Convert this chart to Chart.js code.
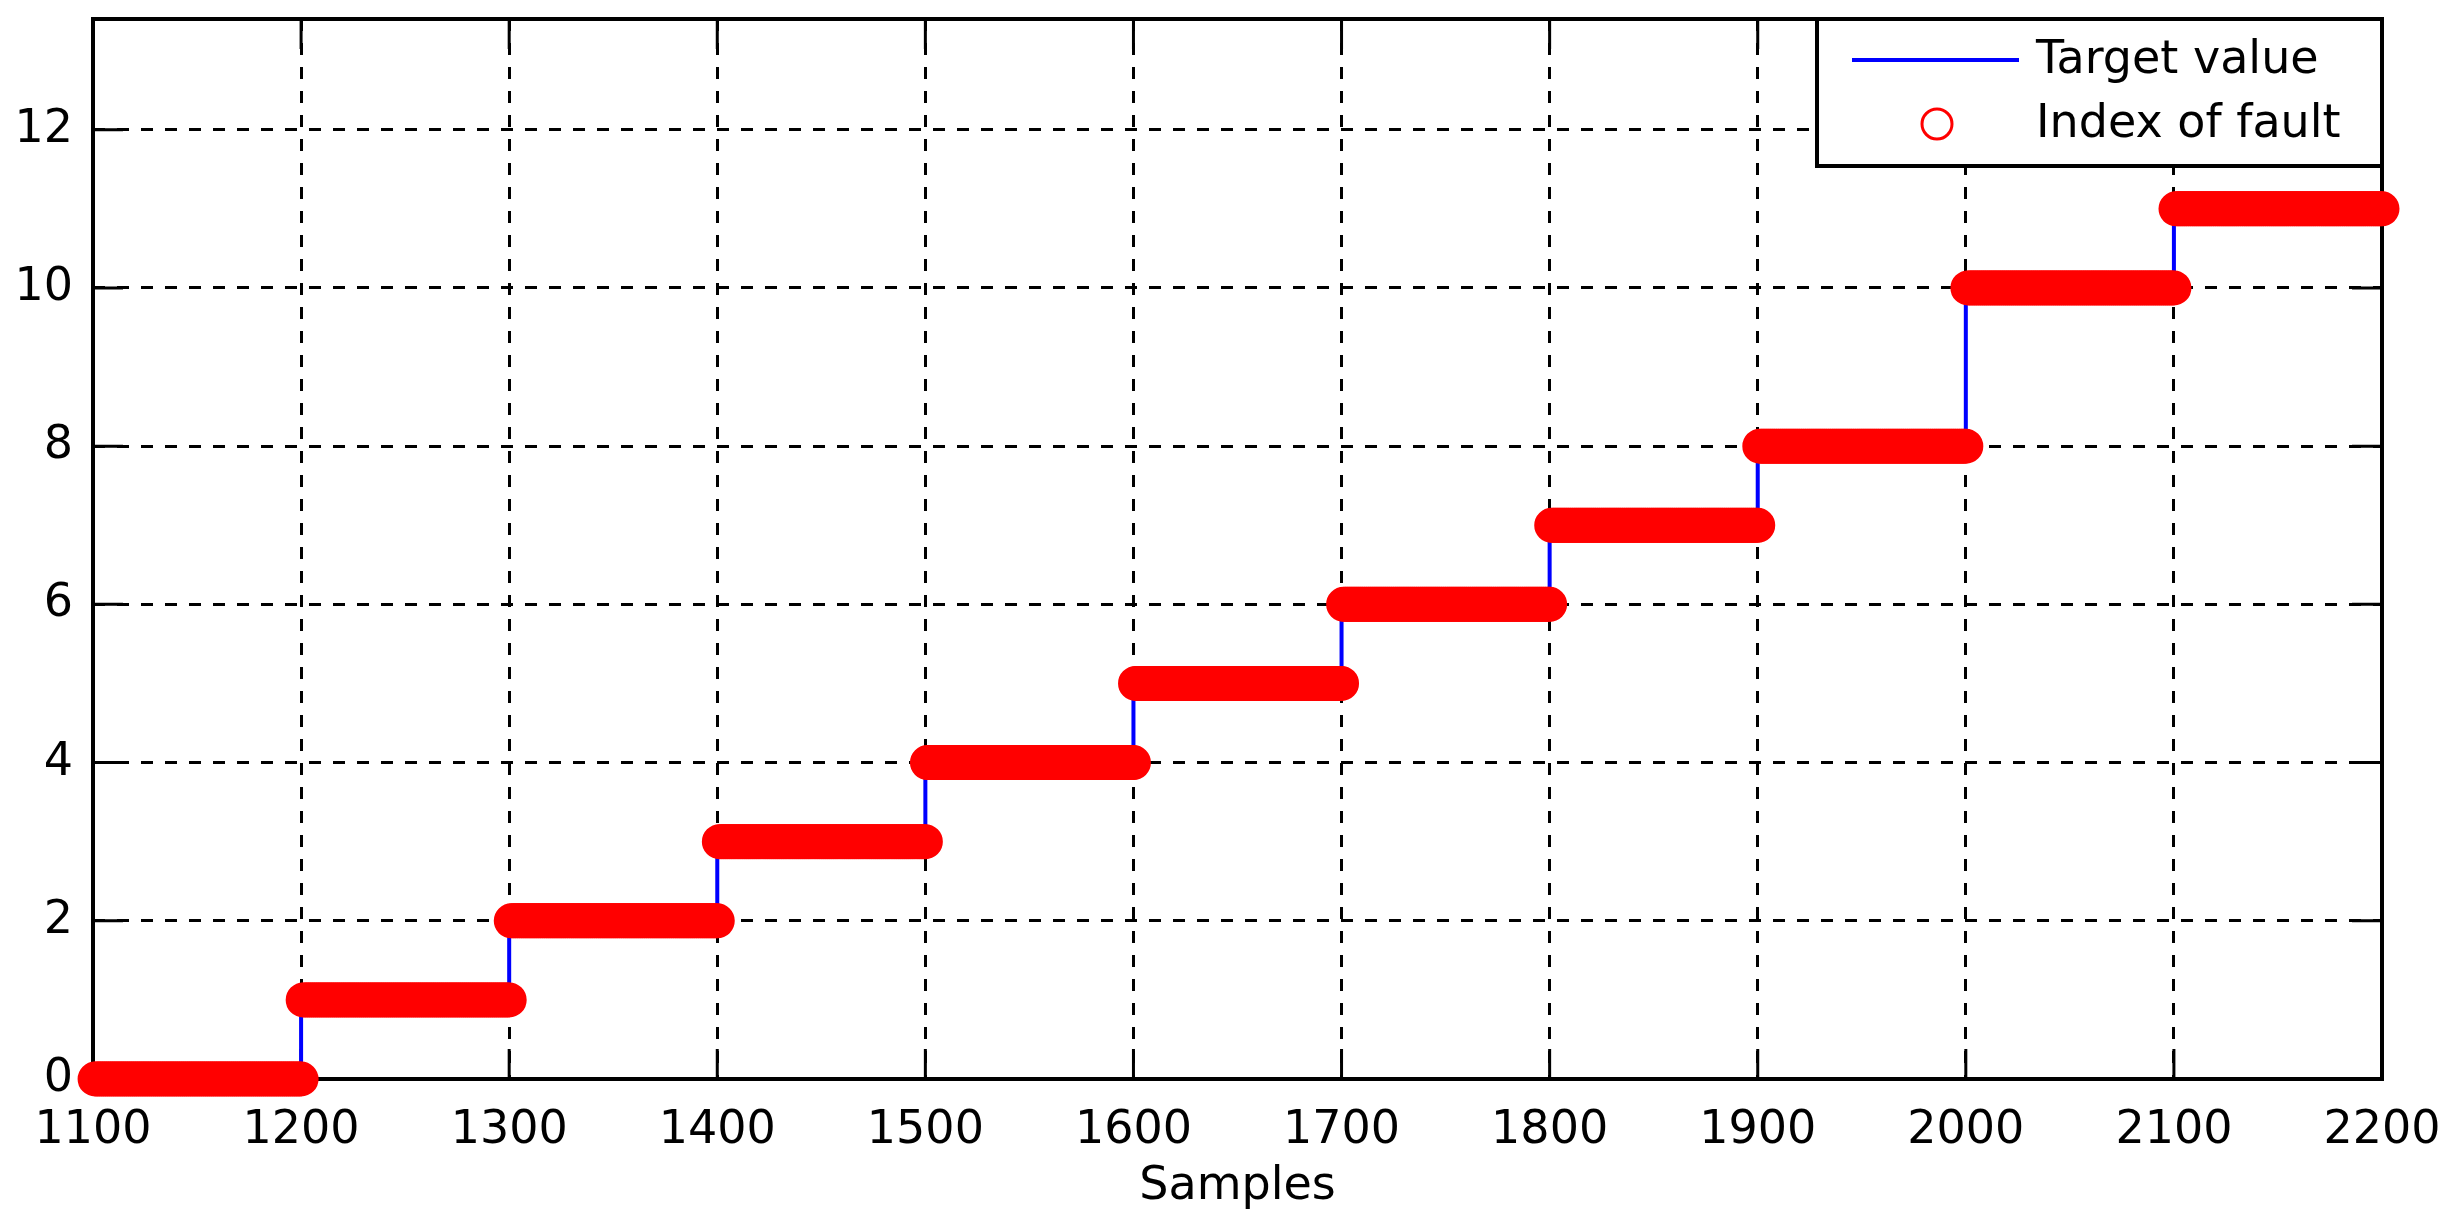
<!DOCTYPE html>
<html>
<head>
<meta charset="utf-8">
<script src="https://cdn.jsdelivr.net/npm/chart.js@4.4.0/dist/chart.umd.min.js"></script>
<style>
html, body { margin: 0; padding: 0; background: #fff; }
</style>
</head>
<body>
<canvas id="faultChart" width="2450" height="1227"></canvas>
<script>
// segments of 100 samples, each with its fault index
const segmentStart = [1100, 1200, 1300, 1400, 1500, 1600, 1700, 1800, 1900, 2000, 2100];
const segmentEnd = 2200;
const faultIndex = [0, 1, 2, 3, 4, 5, 6, 7, 8, 10, 11];
const xTicks = [1100, 1200, 1300, 1400, 1500, 1600, 1700, 1800, 1900, 2000, 2100, 2200];
const yTicks = [0, 2, 4, 6, 8, 10, 12];

// target value: one point per segment start, drawn as a step line
const targetPoints = segmentStart.map((x, i) => ({ x: x, y: faultIndex[i] }));
targetPoints.push({ x: segmentEnd, y: faultIndex[faultIndex.length - 1] });

// index of fault: one marker per sample
const faultSamples = [];
segmentStart.forEach((start, i) => {
    const end = i + 1 < segmentStart.length ? segmentStart[i + 1] : segmentEnd;
    for (let s = start + 1; s <= end; s++) {
        faultSamples.push({ x: s, y: faultIndex[i] });
    }
});

Chart.defaults.font.family = 'DejaVu Sans';
Chart.defaults.color = '#000';

// no extra room for labels hanging past the plot edges
function fixBox(s, size) {
    if (s.isHorizontal()) s.height = size; else s.width = size;
    s.paddingLeft = 0; s.paddingRight = 0; s.paddingTop = 0; s.paddingBottom = 0;
}

const frame = {
    id: 'frame',
    beforeDatasetsDraw(chart) {
        const ctx = chart.ctx;
        const a = chart.chartArea;
        const sx = chart.scales.x, sy = chart.scales.y;
        const tick = 30;
        ctx.save();
        ctx.strokeStyle = '#000';
        ctx.lineWidth = 3;
        ctx.beginPath();
        xTicks.forEach(v => {
            const px = sx.getPixelForValue(v);
            ctx.moveTo(px, a.bottom); ctx.lineTo(px, a.bottom - tick);
            ctx.moveTo(px, a.top); ctx.lineTo(px, a.top + tick);
        });
        yTicks.forEach(v => {
            const py = sy.getPixelForValue(v);
            ctx.moveTo(a.left, py); ctx.lineTo(a.left + tick, py);
            ctx.moveTo(a.right, py); ctx.lineTo(a.right - tick, py);
        });
        ctx.stroke();
        ctx.lineWidth = 4;
        ctx.strokeRect(a.left, a.top, a.right - a.left, a.bottom - a.top);
        ctx.restore();
    }
};

const boxLegend = {
    id: 'boxLegend',
    afterDraw(chart) {
        const ctx = chart.ctx;
        const a = chart.chartArea;
        const w = 565, h = 147;
        const x0 = a.right - w, y0 = a.top;
        ctx.save();
        ctx.fillStyle = '#fff';
        ctx.fillRect(x0, y0, w, h);
        ctx.strokeStyle = '#000';
        ctx.lineWidth = 4;
        ctx.strokeRect(x0, y0, w, h);

        const target = chart.data.datasets[1];
        const fault = chart.data.datasets[0];
        ctx.strokeStyle = target.borderColor;
        ctx.lineWidth = 4;
        ctx.beginPath();
        ctx.moveTo(x0 + 35, y0 + 41);
        ctx.lineTo(x0 + 202, y0 + 41);
        ctx.stroke();

        ctx.strokeStyle = fault.borderColor;
        ctx.lineWidth = 3;
        ctx.beginPath();
        ctx.arc(x0 + 120, y0 + 105, 15, 0, Math.PI * 2);
        ctx.stroke();

        ctx.fillStyle = '#000';
        ctx.font = '46px "DejaVu Sans"';
        ctx.textBaseline = 'middle';
        ctx.fillText(target.label, x0 + 219, y0 + 42);
        ctx.fillText(fault.label, x0 + 219, y0 + 106);
        ctx.restore();
    }
};

new Chart(document.getElementById('faultChart'), {
    type: 'scatter',
    data: {
        datasets: [{
            label: 'Index of fault',
            data: faultSamples,
            borderColor: '#ff0000',
            backgroundColor: '#ff0000',
            pointRadius: 16,
            borderWidth: 3,
            showLine: false,
            clip: false,
            order: 0
        }, {
            label: 'Target value',
            data: targetPoints,
            borderColor: '#0000ff',
            borderWidth: 4,
            pointRadius: 0,
            showLine: true,
            stepped: 'before',
            order: 1
        }]
    },
    options: {
        responsive: false,
        animation: false,
        devicePixelRatio: 1,
        layout: { padding: { top: 15, right: 68, left: 0, bottom: 0 } },
        plugins: {
            legend: { display: false },
            tooltip: { enabled: false }
        },
        scales: {
            x: {
                type: 'linear',
                min: 1100,
                max: 2200,
                afterBuildTicks: s => { s.ticks = xTicks.map(v => ({ value: v })); },
                afterFit: s => fixBox(s, 148),
                grid: { color: '#000', lineWidth: 3, drawTicks: false },
                border: { display: false, dash: [12, 12] },
                ticks: { font: { size: 46 }, padding: 24, maxRotation: 0, autoSkip: false, callback: v => String(v) },
                title: { display: true, text: 'Samples', font: { size: 46 }, padding: { top: 0, bottom: 12 } }
            },
            y: {
                type: 'linear',
                min: 0,
                max: 13.4,
                afterBuildTicks: s => { s.ticks = yTicks.map(v => ({ value: v })); },
                afterFit: s => fixBox(s, 93),
                grid: { color: '#000', lineWidth: 3, drawTicks: false },
                border: { display: false, dash: [12, 12] },
                ticks: { font: { size: 46 }, padding: 20, callback: v => String(v) }
            }
        }
    },
    plugins: [frame, boxLegend]
});
</script>
</body>
</html>
